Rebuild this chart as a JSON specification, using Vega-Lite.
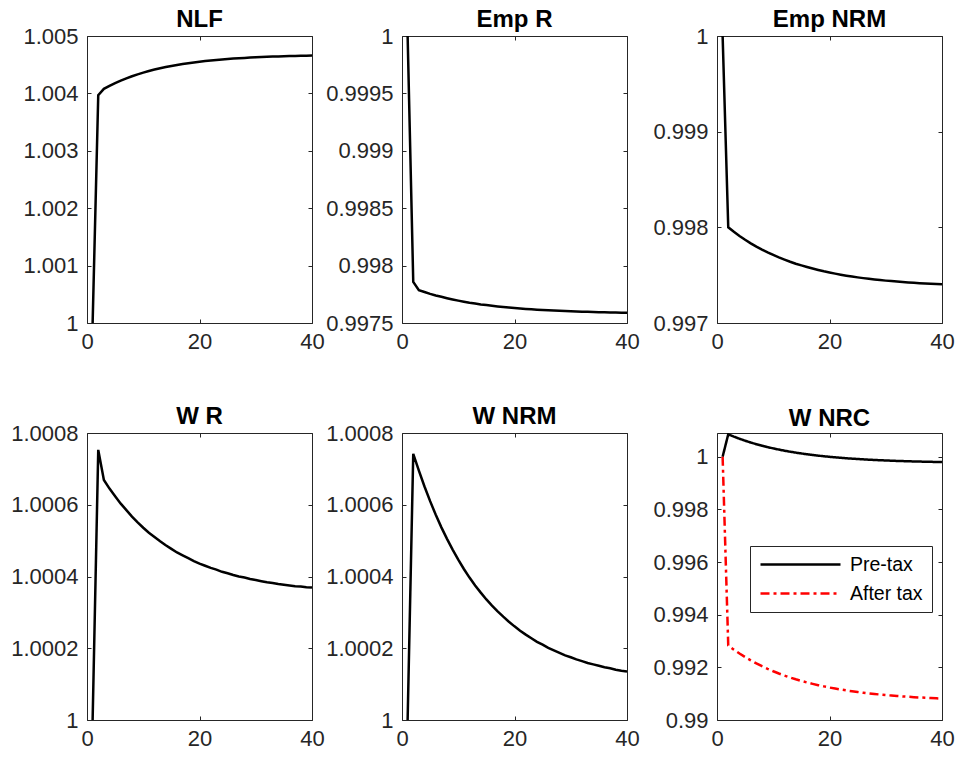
{
  "$schema": "https://vega.github.io/schema/vega-lite/v6.json",
  "padding": {"left": 10, "top": 7, "right": 5, "bottom": 5},
  "background": "white",
  "data": {"values": [
    {"t":1,"NLF":1,"EmpR":1,"EmpNRM":1,"WR":1,"WNRM":1,"Pre-tax":1,"After tax":1},
    {"t":2,"NLF":1.00397,"EmpR":0.997858,"EmpNRM":0.998,"WR":1.000753,"WNRM":1.000742,"Pre-tax":1.00085,"After tax":0.99283},
    {"t":3,"NLF":1.00408,"EmpR":0.997786,"EmpNRM":0.997953,"WR":1.000669,"WNRM":1.000695,"Pre-tax":1.000762,"After tax":0.992672},
    {"t":4,"NLF":1.004132,"EmpR":0.99777,"EmpNRM":0.99791,"WR":1.000645,"WNRM":1.000651,"Pre-tax":1.000681,"After tax":0.992526},
    {"t":5,"NLF":1.00418,"EmpR":0.997754,"EmpNRM":0.99787,"WR":1.000624,"WNRM":1.00061,"Pre-tax":1.000607,"After tax":0.992391},
    {"t":6,"NLF":1.004223,"EmpR":0.99774,"EmpNRM":0.997833,"WR":1.000603,"WNRM":1.000572,"Pre-tax":1.000538,"After tax":0.992266},
    {"t":7,"NLF":1.004263,"EmpR":0.997728,"EmpNRM":0.997799,"WR":1.000585,"WNRM":1.000537,"Pre-tax":1.000475,"After tax":0.99215},
    {"t":8,"NLF":1.004299,"EmpR":0.997716,"EmpNRM":0.997767,"WR":1.000567,"WNRM":1.000505,"Pre-tax":1.000417,"After tax":0.992043},
    {"t":9,"NLF":1.004332,"EmpR":0.997705,"EmpNRM":0.997738,"WR":1.000551,"WNRM":1.000475,"Pre-tax":1.000364,"After tax":0.991943},
    {"t":10,"NLF":1.004362,"EmpR":0.997695,"EmpNRM":0.997711,"WR":1.000536,"WNRM":1.000447,"Pre-tax":1.000315,"After tax":0.991851},
    {"t":11,"NLF":1.00439,"EmpR":0.997686,"EmpNRM":0.997685,"WR":1.000522,"WNRM":1.000421,"Pre-tax":1.00027,"After tax":0.991766},
    {"t":12,"NLF":1.004415,"EmpR":0.997677,"EmpNRM":0.997662,"WR":1.00051,"WNRM":1.000397,"Pre-tax":1.000228,"After tax":0.991687},
    {"t":13,"NLF":1.004438,"EmpR":0.99767,"EmpNRM":0.99764,"WR":1.000498,"WNRM":1.000375,"Pre-tax":1.00019,"After tax":0.991614},
    {"t":14,"NLF":1.004459,"EmpR":0.997662,"EmpNRM":0.99762,"WR":1.000487,"WNRM":1.000355,"Pre-tax":1.000155,"After tax":0.991546},
    {"t":15,"NLF":1.004478,"EmpR":0.997656,"EmpNRM":0.997602,"WR":1.000477,"WNRM":1.000336,"Pre-tax":1.000122,"After tax":0.991484},
    {"t":16,"NLF":1.004496,"EmpR":0.99765,"EmpNRM":0.997585,"WR":1.000467,"WNRM":1.000319,"Pre-tax":1.000093,"After tax":0.991426},
    {"t":17,"NLF":1.004512,"EmpR":0.997644,"EmpNRM":0.997569,"WR":1.000459,"WNRM":1.000303,"Pre-tax":1.000065,"After tax":0.991372},
    {"t":18,"NLF":1.004527,"EmpR":0.997639,"EmpNRM":0.997554,"WR":1.000451,"WNRM":1.000288,"Pre-tax":1.00004,"After tax":0.991322},
    {"t":19,"NLF":1.00454,"EmpR":0.997634,"EmpNRM":0.99754,"WR":1.000443,"WNRM":1.000274,"Pre-tax":1.000017,"After tax":0.991276},
    {"t":20,"NLF":1.004552,"EmpR":0.99763,"EmpNRM":0.997528,"WR":1.000436,"WNRM":1.000261,"Pre-tax":0.999995,"After tax":0.991233},
    {"t":21,"NLF":1.004563,"EmpR":0.997626,"EmpNRM":0.997516,"WR":1.00043,"WNRM":1.000249,"Pre-tax":0.999976,"After tax":0.991194},
    {"t":22,"NLF":1.004573,"EmpR":0.997622,"EmpNRM":0.997505,"WR":1.000424,"WNRM":1.000238,"Pre-tax":0.999958,"After tax":0.991157},
    {"t":23,"NLF":1.004583,"EmpR":0.997619,"EmpNRM":0.997495,"WR":1.000419,"WNRM":1.000228,"Pre-tax":0.999941,"After tax":0.991123},
    {"t":24,"NLF":1.004591,"EmpR":0.997616,"EmpNRM":0.997486,"WR":1.000413,"WNRM":1.000218,"Pre-tax":0.999926,"After tax":0.991092},
    {"t":25,"NLF":1.004599,"EmpR":0.997613,"EmpNRM":0.997477,"WR":1.000409,"WNRM":1.00021,"Pre-tax":0.999912,"After tax":0.991063},
    {"t":26,"NLF":1.004606,"EmpR":0.99761,"EmpNRM":0.997469,"WR":1.000404,"WNRM":1.000201,"Pre-tax":0.999899,"After tax":0.991036},
    {"t":27,"NLF":1.004612,"EmpR":0.997608,"EmpNRM":0.997462,"WR":1.0004,"WNRM":1.000194,"Pre-tax":0.999887,"After tax":0.991011},
    {"t":28,"NLF":1.004618,"EmpR":0.997606,"EmpNRM":0.997455,"WR":1.000397,"WNRM":1.000187,"Pre-tax":0.999876,"After tax":0.990988},
    {"t":29,"NLF":1.004624,"EmpR":0.997604,"EmpNRM":0.997449,"WR":1.000393,"WNRM":1.00018,"Pre-tax":0.999866,"After tax":0.990967},
    {"t":30,"NLF":1.004628,"EmpR":0.997602,"EmpNRM":0.997443,"WR":1.00039,"WNRM":1.000175,"Pre-tax":0.999857,"After tax":0.990947},
    {"t":31,"NLF":1.004633,"EmpR":0.9976,"EmpNRM":0.997438,"WR":1.000387,"WNRM":1.000169,"Pre-tax":0.999848,"After tax":0.990929},
    {"t":32,"NLF":1.004637,"EmpR":0.997598,"EmpNRM":0.997433,"WR":1.000384,"WNRM":1.000164,"Pre-tax":0.99984,"After tax":0.990912},
    {"t":33,"NLF":1.004641,"EmpR":0.997597,"EmpNRM":0.997428,"WR":1.000382,"WNRM":1.000159,"Pre-tax":0.999833,"After tax":0.990896},
    {"t":34,"NLF":1.004644,"EmpR":0.997596,"EmpNRM":0.997424,"WR":1.000379,"WNRM":1.000155,"Pre-tax":0.999827,"After tax":0.990882},
    {"t":35,"NLF":1.004647,"EmpR":0.997594,"EmpNRM":0.99742,"WR":1.000377,"WNRM":1.000151,"Pre-tax":0.99982,"After tax":0.990868},
    {"t":36,"NLF":1.00465,"EmpR":0.997593,"EmpNRM":0.997416,"WR":1.000375,"WNRM":1.000147,"Pre-tax":0.999815,"After tax":0.990856},
    {"t":37,"NLF":1.004653,"EmpR":0.997592,"EmpNRM":0.997413,"WR":1.000373,"WNRM":1.000144,"Pre-tax":0.99981,"After tax":0.990844},
    {"t":38,"NLF":1.004655,"EmpR":0.997591,"EmpNRM":0.99741,"WR":1.000372,"WNRM":1.00014,"Pre-tax":0.999805,"After tax":0.990834},
    {"t":39,"NLF":1.004657,"EmpR":0.99759,"EmpNRM":0.997407,"WR":1.00037,"WNRM":1.000137,"Pre-tax":0.9998,"After tax":0.990824},
    {"t":40,"NLF":1.004659,"EmpR":0.997589,"EmpNRM":0.997404,"WR":1.000369,"WNRM":1.000135,"Pre-tax":0.999796,"After tax":0.990815}
  ]},
  "columns": 3,
  "spacing": {"row": 110, "column": 90},
  "bounds": "flush",
  "concat": [
    {
      "title": {"text": "NLF", "offset": -7}, "width": 225, "height": 287,
      "layer": [
        {"mark": {"type": "line", "color": "black", "strokeWidth": 2.5, "clip": true},
         "encoding": {
           "x": {"field": "t", "type": "quantitative", "scale": {"domain": [0, 40], "nice": false}, "axis": {"values": [0, 20, 40], "title": null}},
           "y": {"field": "NLF", "type": "quantitative", "scale": {"domain": [1, 1.005], "nice": false, "zero": false}, "axis": {"values": [1, 1.001, 1.002, 1.003, 1.004, 1.005], "format": "~g", "title": null}}}},
        {"mark": {"type": "line", "opacity": 0},
         "encoding": {
           "x": {"field": "t", "type": "quantitative", "scale": {"domain": [0, 40], "nice": false}, "axis": {"orient": "top", "labels": false, "values": [0, 20, 40], "title": null}},
           "y": {"field": "NLF", "type": "quantitative", "scale": {"domain": [1, 1.005], "nice": false, "zero": false}, "axis": {"orient": "right", "labels": false, "values": [1, 1.001, 1.002, 1.003, 1.004, 1.005], "title": null}}}}
      ],
      "resolve": {"axis": {"x": "independent", "y": "independent"}}
    },
    {
      "title": {"text": "Emp R", "offset": -7}, "width": 225, "height": 287,
      "layer": [
        {"mark": {"type": "line", "color": "black", "strokeWidth": 2.5, "clip": true},
         "encoding": {
           "x": {"field": "t", "type": "quantitative", "scale": {"domain": [0, 40], "nice": false}, "axis": {"values": [0, 20, 40], "title": null}},
           "y": {"field": "EmpR", "type": "quantitative", "scale": {"domain": [0.9975, 1], "nice": false, "zero": false}, "axis": {"values": [0.9975, 0.998, 0.9985, 0.999, 0.9995, 1], "format": "~g", "title": null}}}},
        {"mark": {"type": "line", "opacity": 0},
         "encoding": {
           "x": {"field": "t", "type": "quantitative", "scale": {"domain": [0, 40], "nice": false}, "axis": {"orient": "top", "labels": false, "values": [0, 20, 40], "title": null}},
           "y": {"field": "EmpR", "type": "quantitative", "scale": {"domain": [0.9975, 1], "nice": false, "zero": false}, "axis": {"orient": "right", "labels": false, "values": [0.9975, 0.998, 0.9985, 0.999, 0.9995, 1], "title": null}}}}
      ],
      "resolve": {"axis": {"x": "independent", "y": "independent"}}
    },
    {
      "title": {"text": "Emp NRM", "offset": -7}, "width": 225, "height": 287,
      "layer": [
        {"mark": {"type": "line", "color": "black", "strokeWidth": 2.5, "clip": true},
         "encoding": {
           "x": {"field": "t", "type": "quantitative", "scale": {"domain": [0, 40], "nice": false}, "axis": {"values": [0, 20, 40], "title": null}},
           "y": {"field": "EmpNRM", "type": "quantitative", "scale": {"domain": [0.997, 1], "nice": false, "zero": false}, "axis": {"values": [0.997, 0.998, 0.999, 1], "format": "~g", "title": null}}}},
        {"mark": {"type": "line", "opacity": 0},
         "encoding": {
           "x": {"field": "t", "type": "quantitative", "scale": {"domain": [0, 40], "nice": false}, "axis": {"orient": "top", "labels": false, "values": [0, 20, 40], "title": null}},
           "y": {"field": "EmpNRM", "type": "quantitative", "scale": {"domain": [0.997, 1], "nice": false, "zero": false}, "axis": {"orient": "right", "labels": false, "values": [0.997, 0.998, 0.999, 1], "title": null}}}}
      ],
      "resolve": {"axis": {"x": "independent", "y": "independent"}}
    },
    {
      "title": {"text": "W R", "offset": -7}, "width": 225, "height": 287,
      "layer": [
        {"mark": {"type": "line", "color": "black", "strokeWidth": 2.5, "clip": true},
         "encoding": {
           "x": {"field": "t", "type": "quantitative", "scale": {"domain": [0, 40], "nice": false}, "axis": {"values": [0, 20, 40], "title": null}},
           "y": {"field": "WR", "type": "quantitative", "scale": {"domain": [1, 1.0008], "nice": false, "zero": false}, "axis": {"values": [1, 1.0002, 1.0004, 1.0006, 1.0008], "format": "~g", "title": null}}}},
        {"mark": {"type": "line", "opacity": 0},
         "encoding": {
           "x": {"field": "t", "type": "quantitative", "scale": {"domain": [0, 40], "nice": false}, "axis": {"orient": "top", "labels": false, "values": [0, 20, 40], "title": null}},
           "y": {"field": "WR", "type": "quantitative", "scale": {"domain": [1, 1.0008], "nice": false, "zero": false}, "axis": {"orient": "right", "labels": false, "values": [1, 1.0002, 1.0004, 1.0006, 1.0008], "title": null}}}}
      ],
      "resolve": {"axis": {"x": "independent", "y": "independent"}}
    },
    {
      "title": {"text": "W NRM", "offset": -7}, "width": 225, "height": 287,
      "layer": [
        {"mark": {"type": "line", "color": "black", "strokeWidth": 2.5, "clip": true},
         "encoding": {
           "x": {"field": "t", "type": "quantitative", "scale": {"domain": [0, 40], "nice": false}, "axis": {"values": [0, 20, 40], "title": null}},
           "y": {"field": "WNRM", "type": "quantitative", "scale": {"domain": [1, 1.0008], "nice": false, "zero": false}, "axis": {"values": [1, 1.0002, 1.0004, 1.0006, 1.0008], "format": "~g", "title": null}}}},
        {"mark": {"type": "line", "opacity": 0},
         "encoding": {
           "x": {"field": "t", "type": "quantitative", "scale": {"domain": [0, 40], "nice": false}, "axis": {"orient": "top", "labels": false, "values": [0, 20, 40], "title": null}},
           "y": {"field": "WNRM", "type": "quantitative", "scale": {"domain": [1, 1.0008], "nice": false, "zero": false}, "axis": {"orient": "right", "labels": false, "values": [1, 1.0002, 1.0004, 1.0006, 1.0008], "title": null}}}}
      ],
      "resolve": {"axis": {"x": "independent", "y": "independent"}}
    },
    {
      "title": {"text": "W NRC", "offset": 2}, "width": 225, "height": 287,
      "transform": [{"fold": ["Pre-tax", "After tax"], "as": ["s", "v"]}],
      "layer": [
        {"mark": {"type": "line", "strokeWidth": 2.5, "clip": true},
         "encoding": {
           "x": {"field": "t", "type": "quantitative", "scale": {"domain": [0, 40], "nice": false}, "axis": {"values": [0, 20, 40], "title": null}},
           "y": {"field": "v", "type": "quantitative", "scale": {"domain": [0.99, 1.0009], "nice": false, "zero": false}, "axis": {"values": [0.99, 0.992, 0.994, 0.996, 0.998, 1], "format": "~g", "title": null}},
           "color": {"field": "s", "type": "nominal", "scale": {"domain": ["Pre-tax", "After tax"], "range": ["#000000", "#ff0000"]},
             "legend": {"orient": "none", "legendX": 663, "legendY": 510, "title": null, "symbolType": "stroke", "symbolSize": 6400, "symbolStrokeWidth": 2.5, "clipHeight": 19, "rowPadding": 9, "padding": 9, "labelOffset": 8, "symbolOffset": 0, "labelFontSize": 19.5, "labelFont": "Liberation Sans", "labelColor": "#000000", "strokeColor": "#262626", "fillColor": "#ffffff"}},
           "strokeDash": {"field": "s", "type": "nominal", "scale": {"domain": ["Pre-tax", "After tax"], "range": [[1, 0], [9, 4, 3, 4]]},
             "legend": {"orient": "none", "legendX": 663, "legendY": 510, "title": null, "symbolType": "stroke", "symbolSize": 6400, "symbolStrokeWidth": 2.5, "clipHeight": 19, "rowPadding": 9, "padding": 9, "labelOffset": 8, "symbolOffset": 0, "labelFontSize": 19.5, "labelFont": "Liberation Sans", "labelColor": "#000000", "strokeColor": "#262626", "fillColor": "#ffffff"}}}},
        {"mark": {"type": "line", "opacity": 0},
         "encoding": {
           "x": {"field": "t", "type": "quantitative", "scale": {"domain": [0, 40], "nice": false}, "axis": {"orient": "top", "labels": false, "values": [0, 20, 40], "title": null}},
           "y": {"field": "v", "type": "quantitative", "scale": {"domain": [0.99, 1.0009], "nice": false, "zero": false}, "axis": {"orient": "right", "labels": false, "values": [0.99, 0.992, 0.994, 0.996, 0.998, 1], "title": null}},
           "detail": {"field": "s", "type": "nominal"}}}
      ],
      "resolve": {"axis": {"x": "independent", "y": "independent"}}
    }
  ],
  "config": {
    "view": {"stroke": "#262626", "strokeWidth": 1},
    "axis": {"grid": false, "domain": false, "labelFont": "Liberation Sans", "labelFontSize": 22, "labelColor": "#262626", "tickColor": "#262626", "tickSize": -4, "tickWidth": 1, "labelFlush": false, "labelOverlap": false, "labelBound": false},
    "axisX": {"labelPadding": 12},
    "axisY": {"labelPadding": 13},
    "title": {"font": "Liberation Sans", "fontSize": 24, "fontWeight": "bold", "color": "#000000", "baseline": "alphabetic", "anchor": "middle"}
  }
}
